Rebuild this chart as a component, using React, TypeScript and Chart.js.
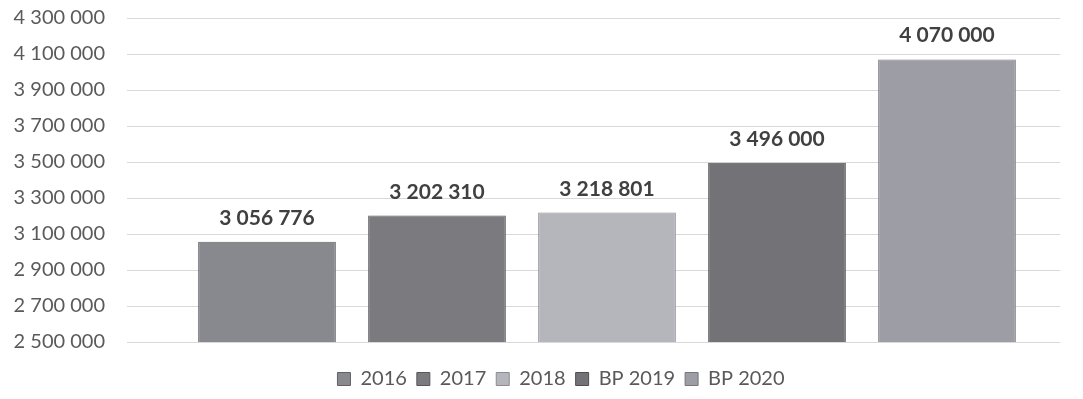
import React, { useEffect, useRef } from 'react';
import { Chart, registerables } from 'chart.js';

Chart.register(...registerables);

const categories = ['2016', '2017', '2018', 'BP 2019', 'BP 2020'];
const values = [3056776, 3202310, 3218801, 3496000, 4070000];
const yMin = 2500000;
const yMax = 4300000;
const yStep = 200000;
const barColors = ['#88888f', '#7b7b7f', '#b5b5bc', '#737377', '#9d9da6'];
const barBorders = ['#606066', '#57575b', '#8c8c92', '#4f4f53', '#76767e'];

const fmt = (n: number) => String(Math.round(n)).replace(/\B(?=(\d{3})+(?!\d))/g, ' ');

const labelPlugin = {
  id: 'valueLabels',
  afterLayout(chart: any) {
    // shift the legend row a little to the right, as in the reference
    if (chart.legend) chart.legend.left += 54;
  },
  afterDatasetsDraw(chart: any) {
    const ctx = chart.ctx;
    ctx.save();
    ctx.font = 'bold 21px Lato';
    ctx.fillStyle = '#404040';
    ctx.textAlign = 'center';
    ctx.textBaseline = 'alphabetic';
    chart.data.datasets.forEach((ds: any, i: number) => {
      const meta = chart.getDatasetMeta(i);
      meta.data.forEach((el: any, j: number) => {
        const v = ds.data[j];
        if (v == null) return;
        ctx.fillText(fmt(v), el.x, el.y - 17);
      });
    });
    ctx.restore();
  },
};

export default function App() {
  const ref = useRef<HTMLCanvasElement>(null);
  useEffect(() => {
    if (!ref.current) return;
    const chart = new Chart(ref.current, {
      type: 'bar',
      data: {
        labels: categories,
        datasets: categories.map((c, i) => ({
          label: c,
          data: categories.map((_, j) => (j === i ? values[i] : null)),
          backgroundColor: barColors[i],
          borderColor: barBorders[i],
          borderWidth: 1,
          grouped: false,
          categoryPercentage: 1,
          barPercentage: 0.81,
        })),
      },
      options: {
        animation: false,
        responsive: true,
        maintainAspectRatio: false,
        layout: { padding: { top: 10, right: 15, left: 0, bottom: 0 } },
        plugins: {
          tooltip: { enabled: false },
          legend: {
            position: 'bottom',
            labels: {
              boxWidth: 13,
              boxHeight: 13,
              padding: 10,
              color: '#595959',
              font: { family: 'Lato', size: 20 },
            },
          },
        },
        scales: {
          x: {
            type: 'category',
            offset: true,
            ticks: { display: false },
            grid: { display: false },
            border: { display: false },
            afterFit: (s: any) => {
              s.height = 17;
            },
          },
          y: {
            min: yMin,
            max: yMax,
            ticks: {
              stepSize: yStep,
              color: '#5a5a5a',
              padding: 22,
              font: { family: 'Lato', size: 20 },
              callback: (v: any) => fmt(Number(v)),
            },
            grid: { color: '#d9d9d9', lineWidth: 1, drawTicks: true, tickLength: 55 },
            border: { display: false },
            afterFit: (s: any) => {
              s.width = 174;
              s.paddingTop = 0;
              s.paddingBottom = 0;
            },
          },
          y2: {
            position: 'right',
            min: yMin,
            max: yMax,
            ticks: { display: false, stepSize: yStep },
            grid: { color: '#d9d9d9', lineWidth: 1, drawOnChartArea: false, drawTicks: true, tickLength: 28 },
            border: { display: false },
            afterFit: (s: any) => {
              s.width = 28;
              s.paddingTop = 0;
              s.paddingBottom = 0;
            },
          },
        },
      } as any,
      plugins: [labelPlugin],
    });
    return () => chart.destroy();
  }, []);
  return (
    <div style={{ position: 'relative', width: '100%', height: 391 }}>
      <canvas ref={ref} />
    </div>
  );
}
